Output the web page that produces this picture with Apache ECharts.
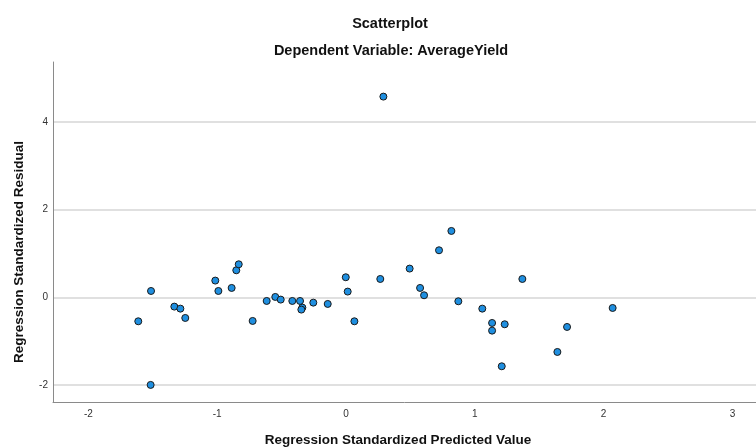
<!DOCTYPE html>
<html>
<head>
<meta charset="utf-8">
<script src="https://cdn.jsdelivr.net/npm/echarts@6/dist/echarts.min.js"></script>
<style>
  html, body { margin: 0; padding: 0; background: #fff; }
  #chart { width: 756px; height: 448px; }
</style>
</head>
<body>
<div id="chart"></div>
<script>
// standardized predicted values (x) and residuals (y)
const predicted = [
  -1.613, -1.514, -1.517, -1.333, -1.286, -1.248, -1.015, -0.991, -0.888, -0.852,
  -0.833, -0.725, -0.616, -0.549, -0.507, -0.417, -0.357, -0.339, -0.347, -0.254,
  -0.142, -0.002, 0.013, 0.065, 0.266, 0.29, 0.494, 0.575, 0.606, 0.722,
  0.818, 0.872, 1.058, 1.134, 1.134, 1.232, 1.209, 1.369, 1.641, 1.716, 2.07
];
const residual = [
  -0.548, 0.144, -2.0, -0.213, -0.259, -0.472, 0.381, 0.144, 0.213, 0.616,
  0.753, -0.54, -0.084, 0.008, -0.053, -0.084, -0.084, -0.236, -0.281, -0.122,
  -0.152, 0.457, 0.13, -0.548, 0.418, 4.58, 0.655, 0.213, 0.046, 1.073,
  1.514, -0.091, -0.259, -0.586, -0.761, -0.616, -1.575, 0.418, -1.248, -0.677, -0.244
];
const xTicks = [-2, -1, 0, 1, 2, 3];
const yTicks = [-2, 0, 2, 4];

const points = predicted.map((x, i) => [x, residual[i]]);

const chart = echarts.init(document.getElementById('chart'));
const font = '"Liberation Sans", Arial, sans-serif';

chart.setOption({
  animation: false,
  backgroundColor: '#fff',
  title: [
    {
      text: 'Scatterplot',
      left: 385, top: 11, textAlign: 'center',
      textStyle: { fontFamily: font, fontSize: 14.5, fontWeight: 'bold', color: '#111' }
    },
    {
      text: 'Dependent Variable: AverageYield',
      left: 386, top: 38, textAlign: 'center',
      textStyle: { fontFamily: font, fontSize: 14.5, fontWeight: 'bold', color: '#111' }
    }
  ],
  grid: { left: 53, top: 62, right: 0, bottom: 46, containLabel: false },
  xAxis: {
    type: 'value',
    min: -2.275,
    max: 3.183,
    axisLine: { show: true, onZero: false, lineStyle: { color: '#8a8a8a', width: 1 } },
    axisTick: { show: false, customValues: xTicks },
    axisLabel: { customValues: xTicks, fontFamily: font, fontSize: 10, color: '#333', margin: 7 },
    splitLine: { show: false }
  },
  yAxis: {
    type: 'value',
    min: -2.39,
    max: 5.37,
    axisLine: { show: true, onZero: false, lineStyle: { color: '#8a8a8a', width: 1 } },
    axisTick: { show: false, customValues: yTicks },
    axisLabel: { customValues: yTicks, fontFamily: font, fontSize: 10, color: '#333', margin: 5 },
    splitLine: { show: true, lineStyle: { color: '#d6d6d6', width: 1.5 } }
  },
  graphic: [
    {
      type: 'text',
      x: 19, y: 252, rotation: Math.PI / 2,
      style: {
        text: 'Regression Standardized Residual',
        font: 'bold 13.5px "Liberation Sans", Arial, sans-serif',
        fill: '#111', align: 'center', verticalAlign: 'middle'
      }
    },
    {
      type: 'text',
      x: 398, y: 440,
      style: {
        text: 'Regression Standardized Predicted Value',
        font: 'bold 13.5px "Liberation Sans", Arial, sans-serif',
        fill: '#111', align: 'center', verticalAlign: 'middle'
      }
    }
  ],
  series: [{
    type: 'scatter',
    data: points,
    symbolSize: 7,
    itemStyle: { color: '#1f8fe0', borderColor: '#1a1a1a', borderWidth: 1, opacity: 1 }
  }]
});
</script>
</body>
</html>
